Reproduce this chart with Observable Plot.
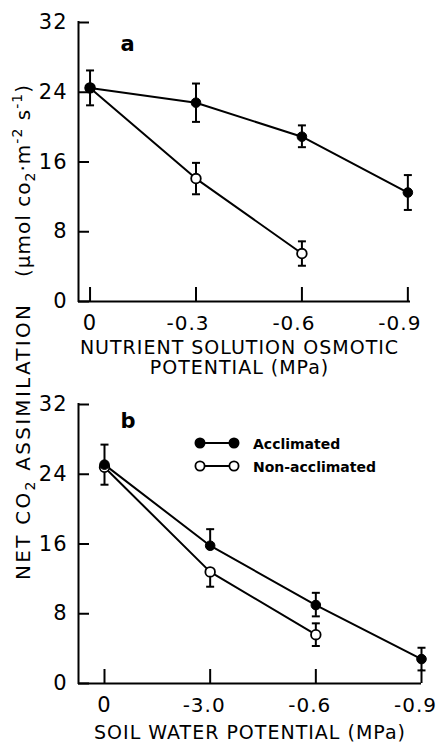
<!DOCTYPE html>
<html><head><meta charset="utf-8">
<script src="https://cdn.jsdelivr.net/npm/d3@7"></script>
<script src="https://cdn.jsdelivr.net/npm/@observablehq/plot@0.6"></script>
<style>
body{margin:0;background:#fff;}
#wrap{position:relative;width:438px;height:742px;overflow:hidden;font-family:"DejaVu Sans",sans-serif;background:#fff;}
#wrap > svg{display:block;}
</style></head><body><div id="wrap"></div>
<script>
// ---- data ----
const levels = [0, 1, 2, 3];
const yTicks = [0, 8, 16, 24, 32];
const tickLabelsA = ["0", "-0.3", "-0.6", "-0.9"];
const tickLabelsB = ["0", "-3.0", "-0.6", "-0.9"];
const seriesNames = ["Acclimated", "Non-acclimated"];

// Panel a: nutrient solution osmotic potential
const aAccMean = [24.5, 22.8, 18.9, 12.5];
const aAccUp   = [2.0, 2.2, 1.3, 2.0];
const aAccDown = [2.0, 2.2, 1.2, 2.0];
const aNonMean = [24.5, 14.1, 5.5];
const aNonUp   = [0, 1.8, 1.4];
const aNonDown = [0, 1.8, 1.4];

// Panel b: soil water potential
const bAccMean = [25.1, 15.8, 9.0, 2.8];
const bAccUp   = [2.3, 1.9, 1.4, 1.3];
const bAccDown = [2.3, 0, 1.3, 1.3];
const bNonMean = [24.8, 12.8, 5.6];
const bNonUp   = [0, 0, 1.3];
const bNonDown = [0, 1.7, 1.3];

const cap = {draw(ctx) { ctx.moveTo(-4, 0); ctx.lineTo(4, 0); }};

function rows(mean, up, down) {
  return mean.map((v, i) => ({x: levels[i], y: v, y1: v - down[i], y2: v + up[i]}));
}

function panel({acc, non, tickLabels, negDx, xDomain, height, marginBottom, marginRight, title, titleDy, titleDx, letter, letterDy}) {
  const fmt = i => tickLabels[i];
  return Plot.plot({
    width: 438, height, marginTop: 22, marginLeft: 78, marginRight, marginBottom,
    style: {fontFamily: "DejaVu Sans, sans-serif", fontSize: "21px", color: "#000", background: "#fff", overflow: "visible", letterSpacing: "1px"},
    x: {domain: xDomain},
    y: {domain: [0, 32]},
    marks: [
      Plot.axisY(yTicks, {anchor: "left", tickSize: 0, tickPadding: 11, label: null, fontSize: 21}),
      Plot.axisY(yTicks, {anchor: "left", tickSize: 11, dx: 11, fill: "none", strokeWidth: 2, label: null}),
      Plot.axisX(levels.slice(0, 1), {anchor: "bottom", tickSize: 0, tickPadding: 14, tickFormat: fmt, label: null, fontSize: 21}),
      Plot.axisX(levels.slice(1), {anchor: "bottom", tickSize: 0, tickPadding: 14, dx: negDx, tickFormat: fmt, label: null, fontSize: 20}),
      Plot.axisX(levels, {anchor: "bottom", tickSize: 14, dy: -14, fill: "none", strokeWidth: 2, label: null}),
      Plot.ruleX([xDomain[0]], {y1: 0, y2: 32, strokeWidth: 2, strokeLinecap: "square"}),
      Plot.ruleY([0], {strokeWidth: 2}),
      Plot.line(non, {x: "x", y: "y", strokeWidth: 2}),
      Plot.line(acc, {x: "x", y: "y", strokeWidth: 2}),
      Plot.ruleX(non, {x: "x", y1: "y1", y2: "y2", strokeWidth: 2}),
      Plot.ruleX(acc, {x: "x", y1: "y1", y2: "y2", strokeWidth: 2}),
      Plot.dot(non, {x: "x", y: "y1", symbol: cap, stroke: "black", strokeWidth: 2}),
      Plot.dot(non, {x: "x", y: "y2", symbol: cap, stroke: "black", strokeWidth: 2}),
      Plot.dot(acc, {x: "x", y: "y1", symbol: cap, stroke: "black", strokeWidth: 2}),
      Plot.dot(acc, {x: "x", y: "y2", symbol: cap, stroke: "black", strokeWidth: 2}),
      Plot.dot(non, {x: "x", y: "y", r: 4.8, fill: "white", stroke: "black", strokeWidth: 1.8}),
      Plot.dot(acc, {x: "x", y: "y", r: 4.8, fill: "black", stroke: "black", strokeWidth: 1}),
      Plot.text([letter], {frameAnchor: "top-left", dx: 42, dy: letterDy, fontSize: 21, fontWeight: "bold", lineAnchor: "middle"}),
      Plot.text([title], {frameAnchor: "bottom", dx: titleDx, dy: titleDy, lineAnchor: "top", fontSize: 19, lineHeight: 1.06})
    ]
  });
}

const wrap = document.getElementById("wrap");

wrap.append(panel({
  acc: rows(aAccMean, aAccUp, aAccDown),
  non: rows(aNonMean, aNonUp, aNonDown),
  tickLabels: tickLabelsA, negDx: -8,
  xDomain: [-0.109, 3.025],
  height: 382, marginBottom: 81, marginRight: 28,
  title: "NUTRIENT SOLUTION OSMOTIC\nPOTENTIAL (MPa)", titleDy: 38, titleDx: -5,
  letter: "a", letterDy: 22
}));

wrap.append(panel({
  acc: rows(bAccMean, bAccUp, bAccDown),
  non: rows(bNonMean, bNonUp, bNonDown),
  tickLabels: tickLabelsB, negDx: -6,
  xDomain: [-0.246, 3.0],
  height: 360, marginBottom: 59, marginRight: 17,
  title: "SOIL WATER POTENTIAL (MPa)", titleDy: 41, titleDx: 0,
  letter: "b", letterDy: 17
}));

// Shared y-axis title
const ysvg = d3.create("svg").attr("width", 44).attr("height", 742)
  .style("position", "absolute").style("left", "0px").style("top", "0px")
  .attr("font-family", "DejaVu Sans, sans-serif").attr("font-size", 20);
const g = ysvg.append("g").attr("transform", "translate(30,0) rotate(-90)");
const t1 = g.append("text").attr("x", -580).attr("text-anchor", "start")
  .attr("textLength", 275).attr("lengthAdjust", "spacing");
t1.append("tspan").text("NET CO");
t1.append("tspan").attr("font-size", 14).attr("dy", 5).text("2");
t1.append("tspan").attr("dy", -5).text(" ASSIMILATION");
const t2 = g.append("text").attr("x", -85).attr("text-anchor", "end")
  .attr("textLength", 192).attr("lengthAdjust", "spacing");
t2.append("tspan").text("(\u03bcmol co");
t2.append("tspan").attr("font-size", 14).attr("dy", 5).text("2");
t2.append("tspan").attr("dy", -5).text("\u00b7m");
t2.append("tspan").attr("font-size", 14).attr("dy", -8).text("-2");
t2.append("tspan").attr("dy", 8).text(" s");
t2.append("tspan").attr("font-size", 14).attr("dy", -8).text("-1");
t2.append("tspan").attr("dy", 8).text(")");
wrap.append(ysvg.node());

// Legend (panel b)
const leg = d3.create("svg").attr("width", 438).attr("height", 742)
  .style("position", "absolute").style("left", "0px").style("top", "0px").style("pointer-events", "none");
const legRows = [{y: 443, fill: "black"}, {y: 466, fill: "white"}];
legRows.forEach((r, i) => {
  leg.append("line").attr("x1", 200).attr("x2", 234).attr("y1", r.y).attr("y2", r.y).attr("stroke", "black").attr("stroke-width", 2);
  [200, 234].forEach(cx => leg.append("circle").attr("cx", cx).attr("cy", r.y).attr("r", 4.6)
    .attr("fill", r.fill).attr("stroke", "black").attr("stroke-width", 1.8));
  leg.append("text").attr("x", 253).attr("y", r.y + 5.5).attr("font-family", "DejaVu Sans, sans-serif")
    .attr("font-size", 14).attr("font-weight", "bold").text(seriesNames[i]);
});
wrap.append(leg.node());
</script>
</body></html>
